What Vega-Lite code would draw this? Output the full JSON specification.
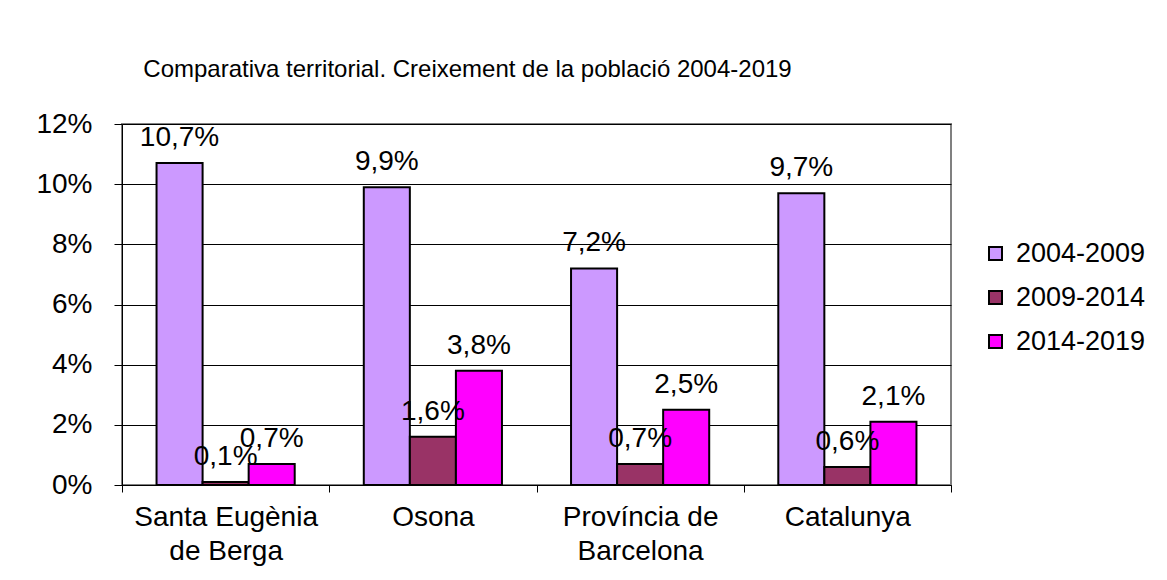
{
  "$schema": "https://vega.github.io/schema/vega-lite/v6.json",
  "width": 829,
  "height": 361,
  "autosize": {"type": "none"},
  "padding": {"left": 122, "top": 124, "right": 216, "bottom": 95},
  "background": "white",
  "title": {
    "text": "Comparativa territorial. Creixement de la població 2004-2019",
    "font": "Liberation Sans",
    "fontSize": 24,
    "fontWeight": "normal",
    "color": "black",
    "anchor": "middle",
    "frame": "group",
    "dx": -69,
    "baseline": "alphabetic",
    "offset": 9
  },
  "config": {
    "locale": {"number": {"decimal": ",", "thousands": ".", "grouping": [3], "currency": ["", " €"]}},
    "view": {"stroke": "#808080", "strokeWidth": 2},
    "font": "Liberation Sans"
  },
  "data": {
    "values": [
      {"territori": "Santa Eugènia de Berga", "periode": "2004-2009", "valor": 0.107},
      {"territori": "Santa Eugènia de Berga", "periode": "2009-2014", "valor": 0.001},
      {"territori": "Santa Eugènia de Berga", "periode": "2014-2019", "valor": 0.007},
      {"territori": "Osona", "periode": "2004-2009", "valor": 0.099},
      {"territori": "Osona", "periode": "2009-2014", "valor": 0.016},
      {"territori": "Osona", "periode": "2014-2019", "valor": 0.038},
      {"territori": "Província de Barcelona", "periode": "2004-2009", "valor": 0.072},
      {"territori": "Província de Barcelona", "periode": "2009-2014", "valor": 0.007},
      {"territori": "Província de Barcelona", "periode": "2014-2019", "valor": 0.025},
      {"territori": "Catalunya", "periode": "2004-2009", "valor": 0.097},
      {"territori": "Catalunya", "periode": "2009-2014", "valor": 0.006},
      {"territori": "Catalunya", "periode": "2014-2019", "valor": 0.021}
    ]
  },
  "encoding": {
    "x": {
      "field": "territori",
      "type": "nominal",
      "sort": null,
      "scale": {"paddingInner": 0, "paddingOuter": 0},
      "axis": {
        "title": null,
        "labelAngle": 0,
        "labelFontSize": 28,
        "labelColor": "black",
        "labelFont": "Liberation Sans",
        "labelLineHeight": 34,
        "labelPadding": 11,
        "labelLimit": 400,
        "labelBaseline": "top",
        "labelExpr": "datum.value == 'Santa Eugènia de Berga' ? ['Santa Eugènia', 'de Berga'] : datum.value == 'Província de Barcelona' ? ['Província de', 'Barcelona'] : datum.value",
        "tickBand": "extent",
        "tickSize": 7,
        "tickColor": "black",
        "domainColor": "black",
        "domainWidth": 1,
        "grid": false
      }
    },
    "xOffset": {
      "field": "periode",
      "type": "nominal",
      "scale": {"paddingInner": 0, "paddingOuter": 0.75}
    },
    "y": {
      "field": "valor",
      "type": "quantitative",
      "scale": {"domain": [0, 0.12], "nice": false},
      "axis": {
        "title": null,
        "format": ".0%",
        "values": [0, 0.02, 0.04, 0.06, 0.08, 0.1, 0.12],
        "labelFontSize": 28,
        "labelColor": "black",
        "labelFont": "Liberation Sans",
        "labelPadding": 22,
        "tickSize": 8,
        "tickColor": "black",
        "domainColor": "black",
        "grid": true,
        "gridColor": "black",
        "gridOpacity": 1,
        "gridWidth": 1
      }
    }
  },
  "layer": [
    {
      "mark": {"type": "bar", "stroke": "black", "strokeWidth": 2},
      "encoding": {
        "color": {
          "field": "periode",
          "type": "nominal",
          "scale": {"domain": ["2004-2009", "2009-2014", "2014-2019"], "range": ["#CC99FF", "#993366", "#FF00FF"]},
          "legend": {
            "title": null,
            "orient": "none",
            "legendX": 860,
            "legendY": 116,
            "symbolType": "square",
            "symbolSize": 169,
            "symbolStrokeColor": "black",
            "symbolStrokeWidth": 2,
            "symbolOpacity": 1,
            "labelFontSize": 27,
            "labelFont": "Liberation Sans",
            "labelColor": "black",
            "labelOffset": 7,
            "rowPadding": 16,
            "padding": 0
          }
        }
      }
    },
    {
      "mark": {"type": "text", "baseline": "alphabetic", "dy": -17, "fontSize": 28, "font": "Liberation Sans", "color": "black"},
      "encoding": {
        "text": {"field": "valor", "type": "quantitative", "format": ".1%"}
      }
    }
  ]
}
